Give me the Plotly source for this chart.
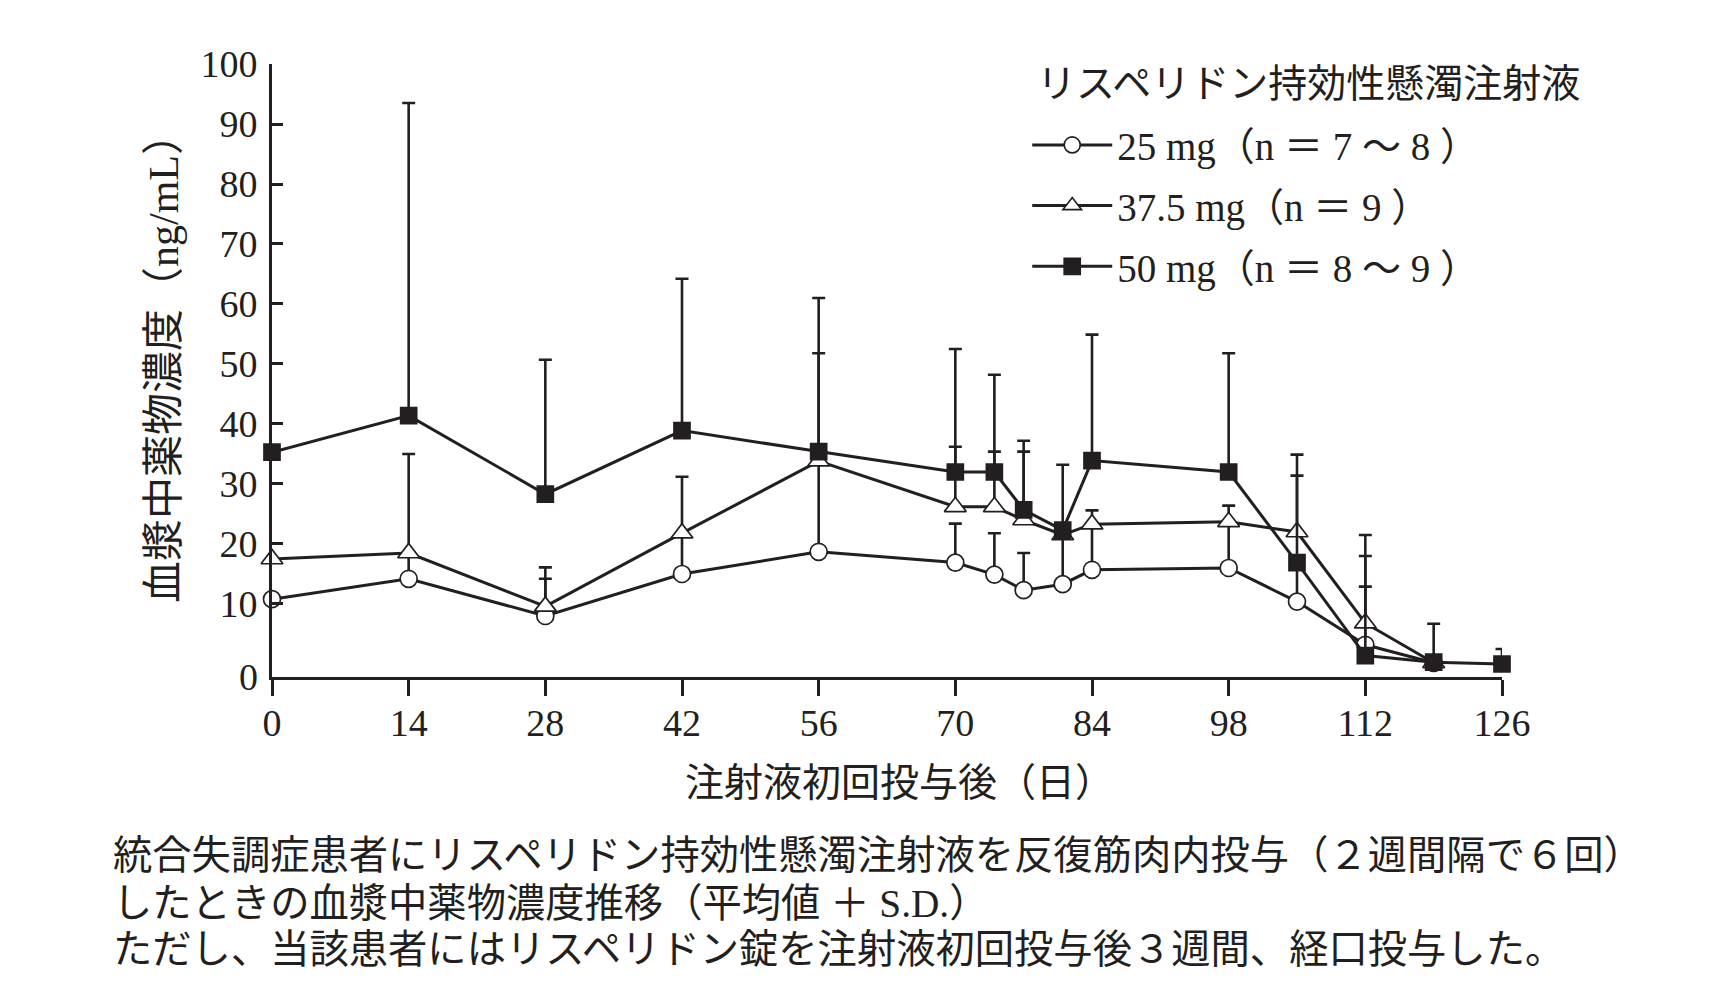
import plotly.graph_objects as go

# ---- data ----
days = [0, 14, 28, 42, 56, 70, 74, 77, 81, 84, 98, 105, 112, 119, 126]

mean_25 = [10.8, 14.2, 8.0, 15.0, 18.7, 16.9, 14.9, 12.3, 13.3, 15.7, 16.0, 10.4, 3.2, 0.2, None]
sd_25 = [0, 20.8, 6.2, 6.2, 14.5, 6.5, 6.9, 6.2, 7.7, 7.0, 7.1, 6.5, 9.7, 0, 0]

mean_375 = [17.5, 18.5, 9.6, 21.8, 33.8, 26.2, 26.2, 24.0, 21.5, 23.3, 23.7, 22.0, 6.8, 0.2, None]
sd_375 = [0, 0, 6.5, 9.4, 18.0, 10.0, 9.2, 11.4, 0.8, 2.3, 2.7, 12.9, 14.7, 0, 0]

mean_50 = [35.3, 41.4, 28.3, 38.9, 35.4, 32.0, 32.0, 25.7, 22.3, 33.9, 32.0, 16.9, 1.4, 0.3, 0.0]
sd_50 = [0, 52.1, 22.4, 25.3, 25.6, 20.5, 16.2, 11.5, 10.9, 21.0, 19.8, 14.5, 16.6, 6.4, 2.5]

series_names = ["25 mg（n ＝ 7 ～ 8 ）", "37.5 mg（n ＝ 9 ）", "50 mg（n ＝ 8 ～ 9 ）"]
legend_title = "リスペリドン持効性懸濁注射液"
x_title = "注射液初回投与後（日）"
y_title = "血漿中薬物濃度（ng/mL）"
x_ticks = [0, 14, 28, 42, 56, 70, 84, 98, 112, 126]
y_ticks = [10, 20, 30, 40, 50, 60, 70, 80, 90, 100]
caption_lines = [
    "統合失調症患者にリスペリドン持効性懸濁注射液を反復筋肉内投与（２週間隔で６回）",
    "したときの血漿中薬物濃度推移（平均値 ＋ S.D.）",
    "ただし、当該患者にはリスペリドン錠を注射液初回投与後３週間、経口投与した。",
]

INK = "#231f20"
FONT = "Liberation Serif, 'Noto Sans CJK JP', serif"

# figure geometry (page body has an 8px margin)
W, H = 1716, 992
ML, MT, PW, PH = 264, 56, 1230, 613

fig = go.Figure()

styles = [
    dict(symbol="circle", size=17, color="white"),
    dict(symbol="triangle-up", size=19, color="white"),
    dict(symbol="square", size=16, color=INK),
]
means = [mean_25, mean_375, mean_50]
sds = [sd_25, sd_375, sd_50]

for i in range(3):
    fig.add_trace(go.Scatter(
        x=days, y=means[i], name=series_names[i],
        mode="lines+markers",
        legendgroup=f"g{i}",
        line=dict(color=INK, width=3),
        marker=dict(symbol=styles[i]["symbol"], size=styles[i]["size"],
                    color=styles[i]["color"], line=dict(color=INK, width=1.7)),
        error_y=dict(type="data", symmetric=False, array=sds[i],
                     arrayminus=[0] * len(days), color=INK,
                     thickness=2.6, width=6.5),
        cliponaxis=False,
        connectgaps=False,
    ))

fig.update_layout(
    width=W, height=H,
    margin=dict(l=ML, r=W - ML - PW, t=MT, b=H - MT - PH),
    paper_bgcolor="white", plot_bgcolor="white",
    font=dict(family=FONT, size=37, color=INK),
    showlegend=True,
    legend=dict(
        x=0.614, y=0.92, xanchor="left", yanchor="top",
        bgcolor="rgba(0,0,0,0)",
        font=dict(family=FONT, size=39, color=INK),
        traceorder="grouped", tracegroupgap=7,
        itemwidth=80,
    ),
    xaxis=dict(
        range=[0, 126], tickvals=x_ticks, ticks="outside", ticklen=16,
        tickwidth=2.6, tickcolor=INK, showline=True, linecolor=INK, linewidth=3,
        showgrid=False, zeroline=False, ticklabelstandoff=-6,
        tickfont=dict(family="Liberation Serif", size=38, color=INK),
    ),
    yaxis=dict(
        range=[-2.17, 100], tickvals=y_ticks, ticks="inside", ticklen=11,
        tickwidth=2.6, tickcolor=INK, showline=True, linecolor=INK, linewidth=3,
        showgrid=False, zeroline=False, ticklabelstandoff=4,
        tickfont=dict(family="Liberation Serif", size=38, color=INK),
    ),
)

# axis titles
fig.add_annotation(x=(899 - 8 - ML) / PW, y=(MT + PH - 774) / PH, xref="paper", yref="paper",
                   text=x_title, showarrow=False, xanchor="center", yanchor="middle",
                   font=dict(family=FONT, size=39, color=INK))
fig.add_annotation(x=(164 - 8 - ML) / PW, y=(MT + PH - 350) / PH, xref="paper", yref="paper",
                   text=y_title, showarrow=False, textangle=-90,
                   xanchor="center", yanchor="middle",
                   font=dict(family=FONT, size=42, color=INK))

# legend heading
fig.add_annotation(x=(1027 - ML) / PW, y=(MT + PH - 75) / PH, xref="paper", yref="paper",
                   text=legend_title, showarrow=False, xanchor="left", yanchor="middle",
                   font=dict(family=FONT, size=39, color=INK))

# "0" label at the axis origin (the reference draws the 0 at the x-axis line)
fig.add_annotation(x=0, y=0, xref="paper", yref="paper", text="0", showarrow=False,
                   xanchor="right", yanchor="middle", xshift=-12,
                   font=dict(family="Liberation Serif", size=38, color=INK))

cap_y = [848, 896, 942]
for line, yy in zip(caption_lines, cap_y):
    fig.add_annotation(x=(103 - ML) / PW, y=(MT + PH - yy) / PH, xref="paper", yref="paper",
                       text=line, showarrow=False, xanchor="left", yanchor="middle",
                       font=dict(family=FONT, size=39.3, color=INK))

fig.write_html("out.html")
